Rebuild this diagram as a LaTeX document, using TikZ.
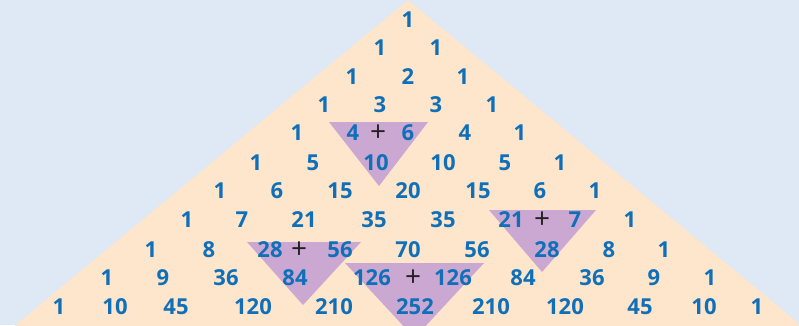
\documentclass[tikz,border=0pt]{standalone}
\usepackage{fontspec}
\setmainfont{Open Sans}
\definecolor{bgblue}{HTML}{DFE8F5}
\definecolor{peach}{HTML}{FDE6CC}
\definecolor{lilac}{HTML}{CBA8D1}
\definecolor{numblue}{HTML}{0F6FB8}
\definecolor{plusblack}{HTML}{231F20}
\begin{document}
\begin{tikzpicture}[x=1pt,y=-1pt,
  num/.style={font=\fontsize{22}{22}\selectfont\bfseries, text=numblue, inner sep=0pt},
  plussign/.style={font=\fontsize{28}{28}\selectfont, text=plusblack, inner sep=0pt},
  hilite/.style={fill=lilac}]
\useasboundingbox (0,0) rectangle (799,325);
\clip (0,0) rectangle (799,325);
\fill[bgblue] (0,0) rectangle (799,325);
\fill[peach] (408,0) -- (803,327) -- (13,327) -- cycle;
% highlight triangles
\fill[hilite] (329,122) -- (428,122) -- (379,186) -- cycle;
\fill[hilite] (247,242) -- (361,242) -- (303,305) -- cycle;
\fill[hilite] (489,210) -- (596,210) -- (542,272) -- cycle;
\fill[hilite] (345,263) -- (484,263) -- (414.5,338) -- cycle;
% numbers
\foreach \x/\t [count=\i] in {408/1}
  \node[num] (r0-\i) at (\x,20) {\t};
\foreach \x/\t [count=\i] in {380/1,436/1}
  \node[num] (r1-\i) at (\x,48) {\t};
\foreach \x/\t [count=\i] in {352/1,408/2,463/1}
  \node[num] (r2-\i) at (\x,77) {\t};
\foreach \x/\t [count=\i] in {324/1,380/3,436/3,492/1}
  \node[num] (r3-\i) at (\x,105) {\t};
\foreach \x/\t [count=\i] in {297/1,353/4,408/6,465/4,520/1}
  \node[num] (r4-\i) at (\x,133) {\t};
\foreach \x/\t [count=\i] in {256/1,313/5,376/10,443/10,505/5,560/1}
  \node[num] (r5-\i) at (\x,163) {\t};
\foreach \x/\t [count=\i] in {220/1,277/6,340/15,408/20,478/15,540/6,595/1}
  \node[num] (r6-\i) at (\x,191) {\t};
\foreach \x/\t [count=\i] in {187/1,242/7,304/21,374/35,443/35,511/21,575/7,630/1}
  \node[num] (r7-\i) at (\x,220) {\t};
\foreach \x/\t [count=\i] in {151/1,209/8,270/28,340/56,408/70,477/56,547/28,609/8,664/1}
  \node[num] (r8-\i) at (\x,250) {\t};
\foreach \x/\t [count=\i] in {107/1,163/9,226/36,295/84,372/126,453/126,523/84,592/36,654/9,710/1}
  \node[num] (r9-\i) at (\x,278) {\t};
\foreach \x/\t [count=\i] in {59/1,115/10,176/45,253/120,334/210,415/252,491/210,565/120,640/45,704/10,757/1}
  \node[num] (r10-\i) at (\x,307) {\t};
% plus signs
\node[plussign] (p1) at (378,133) {+};
\node[plussign] (p2) at (299,250) {+};
\node[plussign] (p3) at (542,220) {+};
\node[plussign] (p4) at (413,278) {+};
\end{tikzpicture}
\end{document}
